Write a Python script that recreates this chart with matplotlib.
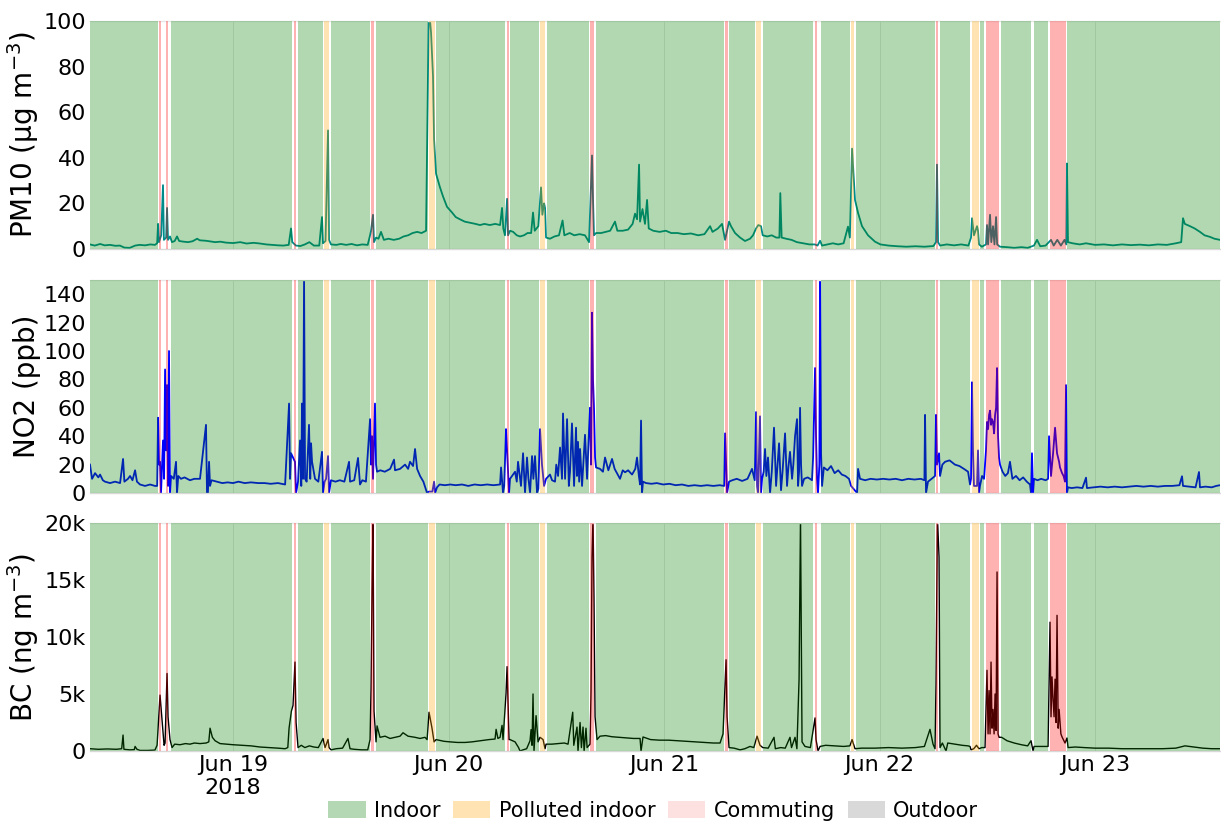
import numpy as np
import pandas as pd
import matplotlib
matplotlib.use('Agg')
import matplotlib.pyplot as plt
from matplotlib.patches import Patch

# times are hours after 2018-06-18 00:00
t0 = pd.Timestamp('2018-06-18 00:00')
x_start = 8.07
x_end = 133.92

# ---------------------------------------------------------------
#  activity periods (start h, end h)
# ---------------------------------------------------------------
indoor = [(8.07, 15.68), (17.06, 30.60), (31.21, 33.99), (34.91, 39.26), (39.93, 45.68),
          (46.61, 54.29), (54.88, 58.11), (58.94, 63.68), (64.43, 78.65), (79.27, 82.10),
          (82.99, 88.63), (89.49, 92.72), (93.35, 102.15), (102.74, 106.08), (107.23, 107.64),
          (109.50, 112.84), (113.24, 114.80), (116.88, 133.92)]
polluted = [(34.17, 34.69), (45.83, 46.46), (58.22, 58.78), (82.25, 82.80), (92.83, 93.19),
            (106.27, 107.08)]
commuting = [(15.79, 16.01), (16.50, 16.73), (30.76, 31.02), (39.37, 39.70), (54.48, 54.74),
             (63.79, 64.24), (78.83, 79.16), (88.78, 89.09), (102.29, 102.55), (107.83, 109.31),
             (114.99, 116.74)]
outdoor = []

# ---------------------------------------------------------------
#  PM10 (ug m-3)
# ---------------------------------------------------------------
pm10_t = [8.07, 8.6, 9.2, 9.7, 10.3, 10.9, 11.4, 11.9, 12.5, 13.1, 13.6, 14.2, 14.8, 15.3, 15.55,
          15.65, 15.75, 16.0, 16.2, 16.3, 16.55, 16.65, 16.76, 16.98, 17.2, 17.5, 17.76, 18.0, 18.5,
          19.0, 19.5, 20.0, 20.3, 21.0, 21.5, 22.0, 22.6, 23.2, 24.0, 24.8, 25.5, 26.3, 27.0, 27.7,
          28.3, 29.0, 29.6, 30.2, 30.46, 30.6, 31.0, 31.5, 32.0, 32.5, 33.0, 33.6, 33.91, 34.02,
          34.3, 34.58, 34.69, 34.91, 35.5, 36.0, 36.6, 37.2, 37.8, 38.4, 39.0, 39.26, 39.37, 39.59,
          39.7, 39.93, 40.2, 40.48, 40.8, 41.3, 41.9, 42.5, 43.0, 43.5, 44.0, 44.5, 45.0, 45.5,
          45.8, 45.94, 46.05, 46.27, 46.39, 46.61, 47.05, 47.39, 47.83, 48.39, 48.8, 49.28, 49.8,
          50.39, 51.0, 51.5, 52.0, 52.6, 53.2, 53.74, 53.96, 54.1, 54.29, 54.52, 54.63, 54.85,
          55.2, 55.6, 55.96, 56.4, 56.8, 57.2, 57.41, 57.6, 58.0, 58.3, 58.45, 58.64, 58.75, 58.86,
          59.3, 59.8, 60.3, 60.7, 60.9, 61.5, 62.0, 62.6, 63.2, 63.65, 63.98, 64.09, 64.2, 64.43,
          65.0, 65.5, 66.0, 66.54, 66.8, 67.4, 68.0, 68.5, 68.77, 69.0, 69.22, 69.33, 69.6, 69.88,
          70.11, 70.3, 70.8, 71.5, 72.2, 72.8, 73.5, 74.2, 75.0, 75.8, 76.5, 77.13, 77.4, 78.0,
          78.46, 78.7, 78.8, 79.02, 79.24, 79.46, 79.91, 80.47, 81.02, 81.58, 81.91, 82.25, 82.5,
          82.8, 82.99, 83.5, 84.0, 84.5, 84.85, 84.95, 85.1, 85.6, 86.2, 86.8, 87.5, 88.2, 88.8,
          89.1, 89.38, 89.6, 90.2, 90.8, 91.4, 92.0, 92.49, 92.7, 92.94, 93.27, 93.61, 94.05,
          94.72, 95.5, 96.1, 97.0, 98.0, 99.0, 100.0, 101.0, 102.0, 102.29, 102.4, 102.52, 102.74,
          103.5, 104.3, 105.1, 105.9, 106.19, 106.3, 106.52, 106.86, 106.97, 107.08, 107.4, 107.86,
          107.97, 108.09, 108.31, 108.45, 108.64, 108.8, 108.98, 109.1, 109.42, 110.2, 111.0,
          111.8, 112.5, 113.2, 113.54, 113.9, 114.5, 115.1, 115.4, 115.8, 116.2, 116.6, 116.8,
          116.88, 116.99, 117.5, 118.3, 119.0, 120.0, 121.0, 122.0, 123.0, 124.0, 125.0, 126.0,
          127.0, 128.0, 129.0, 129.6, 129.8, 130.0, 130.58, 131.1, 131.69, 132.2, 132.81, 133.3,
          133.92]
pm10_v = [2.0, 1.5, 2.2, 1.6, 1.8, 1.4, 1.5, 0.6, 0.5, 1.5, 1.8, 1.6, 2.0, 1.8, 2.5,
          11.0, 3.0, 6.0, 28.0, 4.0, 5.0, 18.0, 4.0, 5.5, 3.0, 3.5, 5.5, 3.5, 3.2,
          3.0, 3.4, 4.5, 3.8, 3.6, 3.3, 3.0, 3.2, 2.8, 2.6, 3.0, 2.4, 2.7, 2.4, 2.0,
          1.8, 1.6, 1.5, 1.8, 9.0, 3.0, 1.5, 1.3, 2.0, 3.0, 1.5, 1.5, 14.0, 2.5,
          3.5, 52.0, 4.0, 2.0, 1.8, 2.2, 1.8, 2.2, 1.6, 2.0, 1.8, 6.0, 8.0, 15.0,
          3.0, 5.0, 4.5, 7.5, 4.0, 4.5, 4.0, 4.5, 5.5, 6.0, 7.0, 7.5, 7.0, 8.0,
          105.0, 100.0, 95.0, 76.0, 48.0, 33.0, 27.0, 23.0, 18.5, 16.0, 14.0, 13.0, 12.0,
          11.5, 11.0, 10.5, 11.0, 10.5, 11.0, 10.5, 18.0, 9.0, 6.0, 22.0, 6.0, 8.0,
          7.5, 6.0, 5.5, 6.0, 7.0, 7.0, 16.0, 8.0, 10.0, 27.0, 15.0, 20.0, 18.0, 5.0,
          4.5, 5.5, 6.0, 12.5, 6.0, 7.0, 6.0, 6.5, 6.0, 3.0, 41.0, 22.0, 6.0, 7.0,
          7.0, 7.5, 8.0, 12.0, 8.0, 8.0, 8.5, 11.0, 15.5, 13.0, 37.0, 12.0, 17.5, 11.0,
          21.5, 9.0, 8.0, 7.5, 8.0, 7.0, 7.0, 6.5, 6.8, 6.0, 6.5, 10.0, 7.5, 9.0,
          11.0, 6.0, 4.0, 8.0, 12.0, 10.0, 7.0, 5.0, 3.5, 4.5, 6.0, 9.0, 10.5,
          10.0, 6.0, 5.5, 6.0, 5.0, 5.0, 24.5, 5.0, 4.5, 4.0, 3.0, 2.5, 2.0, 2.0,
          1.5, 3.6, 1.5, 2.0, 2.5, 2.0, 2.5, 9.8, 5.0, 44.0, 21.5, 15.8, 10.0,
          6.0, 3.2, 2.0, 1.5, 1.2, 1.0, 1.2, 1.0, 1.3, 3.0, 37.0, 3.0, 1.5,
          2.0, 1.6, 2.0, 1.5, 5.0, 13.5, 6.0, 10.0, 8.0, 2.0, 1.0, 2.0,
          10.5, 2.0, 15.0, 3.0, 10.0, 2.0, 14.0, 2.0, 1.0, 0.8, 0.5,
          0.8, 0.5, 1.5, 4.0, 1.2, 1.5, 4.0, 1.5, 4.0, 1.5, 4.0, 2.0,
          37.5, 3.0, 2.5, 2.0, 2.5, 1.8, 2.0, 1.6, 2.0, 1.7, 1.9, 1.6,
          2.0, 1.8, 2.5, 3.0, 13.5, 11.0, 10.0, 9.0, 7.5, 6.0, 5.3, 4.5,
          4.0]

# ---------------------------------------------------------------
#  NO2 (ppb)
# ---------------------------------------------------------------
no2_t = [8.07, 8.3, 8.63, 9.0, 9.19, 9.5, 9.74, 10.3, 10.86, 11.42, 11.75, 11.9, 12.3, 12.53,
         12.8, 13.09, 13.3, 13.64, 14.2, 14.76, 15.31, 15.55, 15.65, 15.76, 15.87, 15.98, 16.2,
         16.32, 16.43, 16.55, 16.65, 16.76, 16.87, 16.98, 17.1, 17.4, 17.65, 17.76, 17.9, 18.2,
         18.6, 19.2, 19.7, 20.32, 20.99, 21.1, 21.2, 21.33, 21.44, 21.6, 22.2, 22.8, 23.4, 24.0,
         24.6, 25.3, 26.0, 26.8, 27.5, 28.2, 29.0, 29.8, 30.24, 30.35, 30.46, 30.68, 30.9, 31.02,
         31.24, 31.46, 31.6, 31.68, 31.8, 31.91, 32.02, 32.2, 32.46, 32.6, 32.69, 32.8, 33.13,
         33.5, 33.91, 34.02, 34.2, 34.36, 34.58, 34.69, 34.91, 35.4, 35.9, 36.4, 36.92, 37.03,
         37.5, 37.92, 38.14, 38.4, 38.8, 39.26, 39.37, 39.48, 39.59, 39.81, 39.93, 40.04, 40.4,
         40.9, 41.5, 41.93, 42.04, 42.6, 43.16, 43.5, 43.71, 44.05, 44.27, 44.5, 44.83, 45.2,
         45.61, 45.8, 46.2, 46.39, 46.5, 46.72, 47.0, 47.6, 48.2, 48.8, 49.5, 50.2, 50.9, 51.6,
         52.3, 53.0, 53.74, 53.85, 54.07, 54.2, 54.4, 54.52, 54.74, 54.85, 55.07, 55.41, 55.6,
         55.74, 56.07, 56.3, 56.52, 56.74, 56.9, 57.08, 57.3, 57.45, 57.63, 57.86, 58.0, 58.19,
         58.41, 58.64, 58.86, 59.3, 59.53, 59.86, 60.0, 60.2, 60.42, 60.64, 60.75, 60.98, 61.2,
         61.4, 61.53, 61.75, 61.98, 62.2, 62.3, 62.42, 62.55, 62.65, 62.87, 63.2, 63.43, 63.65,
         63.76, 63.87, 63.98, 64.09, 64.2, 64.32, 64.43, 64.87, 65.2, 65.43, 65.8, 66.21, 66.5,
         67.1, 67.4, 67.66, 68.0, 68.44, 68.8, 68.99, 69.2, 69.33, 69.44, 69.55, 69.66, 70.0,
         70.6, 71.2, 71.9, 72.6, 73.3, 74.0, 74.7, 75.4, 76.1, 76.8, 77.5, 78.2, 78.7, 78.8,
         78.91, 79.02, 79.24, 79.6, 80.1, 80.7, 81.3, 81.8, 82.1, 82.25, 82.36, 82.47, 82.69,
         82.8, 82.92, 83.1, 83.25, 83.4, 83.58, 83.81, 84.0, 84.25, 84.48, 84.6, 84.81, 85.03,
         85.2, 85.48, 85.7, 85.85, 86.03, 86.26, 86.4, 86.59, 86.81, 86.93, 87.04, 87.15, 87.26,
         87.37, 87.6, 88.0, 88.26, 88.48, 88.6, 88.82, 88.93, 89.04, 89.15, 89.3, 89.38, 89.49,
         89.6, 89.8, 90.2, 90.6, 91.0, 91.4, 91.8, 92.2, 92.6, 92.83, 93.1, 93.5, 93.61, 93.83,
         94.4, 95.0, 95.7, 96.4, 97.1, 97.8, 98.5, 99.2, 99.9, 100.6, 101.0, 101.07, 101.18,
         101.4, 101.8, 102.18, 102.29, 102.4, 102.63, 102.74, 103.0, 103.3, 103.8, 104.4, 104.9,
         105.4, 105.86, 106.08, 106.19, 106.3, 106.41, 106.52, 106.86, 106.97, 107.08, 107.19,
         107.42, 107.64, 107.86, 107.97, 108.09, 108.2, 108.31, 108.42, 108.53, 108.64, 108.76,
         108.87, 108.98, 109.09, 109.2, 109.31, 109.42, 109.7, 110.0, 110.3, 110.53, 110.8,
         111.2, 111.6, 112.0, 112.4, 112.76, 112.87, 112.98, 113.1, 113.21, 113.6, 114.0, 114.5,
         114.77, 114.88, 115.1, 115.33, 115.55, 115.77, 116.0, 116.1, 116.33, 116.5, 116.66,
         116.77, 116.88, 116.99, 117.4, 118.0, 118.6, 119.0, 119.1, 119.8, 120.6, 121.4, 122.2,
         123.0, 123.8, 124.6, 125.4, 126.2, 127.0, 127.8, 128.6, 129.4, 129.69, 129.8, 130.5,
         131.2, 131.58, 131.69, 132.3, 133.0, 133.5, 133.92]
no2_v = [20, 10, 14, 11, 13, 9, 8, 7, 8, 7, 24, 8, 10, 12,
         9, 16, 8, 6, 5, 6, 5, 5, 53, 20, 22, 0, 37,
         10, 87, 30, 76, 5, 100, 0, 12, 10, 22, 0, 12, 10,
         11, 9, 10, 10, 48, 0, 0, 22, 5, 9, 8, 7, 7.5, 7,
         8, 7, 7.5, 7, 7, 6.5, 7, 6, 63, 10, 28, 25, 22, 0,
         8, 37, 5, 63, 10, 152, 10, 8, 48, 10, 35, 22, 10,
         8, 29, 0, 8, 10, 26, 0, 9, 8, 9, 8, 22, 8,
         9, 24.7, 6, 9, 8, 52, 20, 40, 10, 63, 20, 15, 16,
         15, 17, 23.5, 16, 17, 20, 17, 22, 19, 31, 17, 12, 8,
         0, 1, 1, 8, 0, 4, 6, 5.5, 6, 5.5, 6, 5, 6, 5.5,
         6, 5.5, 6, 18, 0, 5, 45, 30, 0, 10, 12, 15, 8,
         22, 5, 28, 0, 25, 10, 0, 26, 10, 26, 0, 3, 45,
         20, 5, 10, 13, 9, 8, 20, 12, 32, 10, 56, 10, 52,
         5, 15, 49, 5, 46, 12, 36, 8, 31, 5, 41, 10, 45,
         60, 20, 127, 80, 60, 25, 18, 17, 15, 25, 16, 24, 17,
         10, 16, 14.6, 16, 13, 17, 25, 12, 6, 51, 0, 8, 7,
         6.5, 7, 6, 6.5, 5.5, 6, 5, 5.5, 5, 5.5, 5, 5.5, 5, 42,
         22, 0, 8, 9, 10, 8.5, 10, 17, 9, 57, 5, 0, 54,
         0, 10, 15, 31, 12, 25, 0, 15, 46, 5, 16, 35, 2,
         15, 42, 5, 18, 29, 10, 20, 40, 52, 5, 15, 60, 20,
         5, 10, 11, 10, 9, 25, 88, 40, 10, 0, 20, 152, 28,
         5, 18, 16, 19, 14, 16, 13, 12, 10, 5, 3, 0, 17, 10,
         9, 10, 9.5, 10, 9.5, 10, 9, 10, 9.5, 10, 9, 55, 0,
         8, 10, 12, 55, 20, 28, 12, 20, 22, 23, 20, 19,
         17, 15, 6, 10, 78, 30, 5, 5, 30, 0, 5,
         12, 10, 30, 50, 45, 55, 58, 48, 52, 50, 42,
         55, 60, 88, 40, 25, 20, 15, 12, 14, 22, 10,
         12, 9, 11, 8, 6, 0, 28, 0, 10, 9, 10, 9,
         10, 40, 12, 28, 46, 28, 22, 18, 14, 12, 8,
         76, 0, 4, 3.5, 4, 3.5, 10.8, 3.5, 4, 4.5, 4, 4.5,
         4, 4.5, 5, 4.5, 5, 4.5, 5, 5, 5.5, 11.8, 5, 4.5,
         4, 14.8, 4, 4.5, 4, 5, 5.5]

# ---------------------------------------------------------------
#  BC (ng m-3)
# ---------------------------------------------------------------
bc_t = [8.07, 9.0, 10.0, 11.0, 11.6, 11.75, 11.85, 12.5, 13.0, 13.09, 13.3, 13.64, 14.5, 15.3,
        15.54, 15.87, 16.09, 16.32, 16.43, 16.65, 16.76, 16.98, 17.21, 17.5, 18.1, 18.7, 19.2,
        19.7, 20.32, 21.0, 21.3, 21.44, 21.7, 22.0, 22.55, 23.3, 24.0, 25.0, 26.0, 27.0, 28.0,
        29.0, 29.8, 30.1, 30.24, 30.5, 30.68, 30.9, 31.02, 31.24, 31.6, 32.0, 32.5, 33.0, 33.5,
        34.02, 34.25, 34.58, 34.69, 34.91, 35.5, 36.2, 36.8, 37.03, 37.5, 38.3, 39.0, 39.26,
        39.37, 39.48, 39.59, 39.7, 39.93, 40.04, 40.37, 40.93, 41.49, 42.04, 42.6, 42.93, 43.49,
        44.27, 44.83, 45.38, 45.61, 45.83, 46.16, 46.39, 46.61, 47.5, 48.17, 49.0, 49.84, 50.6,
        51.51, 52.5, 53.18, 53.3, 53.5, 53.74, 53.96, 54.07, 54.4, 54.52, 54.74, 54.85, 55.41,
        55.8, 55.96, 56.3, 56.7, 57.08, 57.19, 57.3, 57.41, 57.52, 57.75, 57.97, 58.19, 58.53,
        58.75, 58.86, 59.5, 60.2, 60.9, 61.31, 61.83, 61.95, 62.31, 62.42, 62.65, 62.8, 62.98,
        63.1, 63.31, 63.43, 63.76, 63.87, 63.98, 64.09, 64.2, 64.32, 64.54, 64.87, 65.5, 66.2,
        67.0, 67.8, 68.6, 69.33, 69.44, 69.66, 70.5, 71.5, 72.5, 73.5, 74.5, 75.5, 76.5, 77.5,
        78.24, 78.57, 78.91, 79.02, 79.24, 79.8, 80.47, 81.0, 81.58, 82.0, 82.36, 82.69, 83.0,
        83.6, 84.25, 84.4, 85.0, 85.5, 86.03, 86.2, 86.59, 86.8, 87.04, 87.2, 87.37, 87.7, 88.3,
        88.82, 88.93, 89.15, 89.38, 90.0, 91.0, 92.0, 92.7, 92.94, 93.27, 94.0, 95.5, 97.0,
        98.5, 100.0, 101.0, 101.62, 101.96, 102.18, 102.29, 102.45, 102.63, 102.74, 103.0,
        103.41, 103.6, 104.4, 105.2, 105.86, 106.08, 106.19, 106.5, 106.8, 107.08, 107.4,
        107.75, 107.97, 108.09, 108.2, 108.31, 108.42, 108.53, 108.64, 108.76, 108.87, 108.98,
        109.09, 109.2, 109.31, 109.6, 110.2, 111.0, 111.8, 112.5, 112.87, 113.1, 113.21, 114.0,
        114.77, 114.99, 115.1, 115.21, 115.33, 115.44, 115.55, 115.66, 115.77, 115.9, 116.0,
        116.2, 116.33, 116.66, 116.88, 117.0, 117.8, 118.8, 120.0, 121.5, 123.0, 124.5, 126.0,
        127.5, 129.0, 130.02, 131.0, 132.0, 133.0, 133.92]
bc_v = [200, 150, 180, 150, 200, 1400, 150, 100, 120, 400, 150, 50, 50, 80,
        500, 4900, 2800, 500, 700, 6800, 3000, 1000, 300, 600, 550, 650, 600,
        700, 650, 700, 800, 2000, 1200, 900, 650, 600, 550, 500, 450, 350, 300,
        250, 200, 300, 2000, 3500, 4000, 7800, 2500, 300, 500, 300, 450, 350, 300,
        1100, 300, 1000, 300, 100, 200, 250, 1100, 200, 150, 100, 100, 1000,
        5500, 14000, 20500, 3500, 800, 2200, 1200, 1300, 1100, 1200, 1300, 1600, 1300,
        1200, 1100, 1200, 1000, 3400, 2000, 800, 1000, 850, 800, 750, 750, 800,
        900, 1000, 1050, 1900, 1100, 1200, 2250, 1000, 5000, 7400, 1000, 1000, 800,
        300, 0, 100, 200, 900, 1870, 500, 5000, 0, 3100, 800, 1200, 1000,
        200, 600, 600, 650, 700, 600, 3400, 500, 2100, 0, 2500, 300, 2100,
        0, 2000, 300, 600, 5200, 17000, 20500, 13500, 3000, 1000, 1300, 1350, 1250,
        1200, 1150, 1100, 1100, 0, 1230, 1000, 950, 950, 900, 850, 800, 750, 700,
        700, 1500, 8000, 3000, 300, 250, 100, 200, 400, 300, 1300, 500, 300,
        250, 1200, 200, 300, 250, 1200, 300, 1200, 200, 6300, 20500, 800, 400, 300,
        2900, 1000, 0, 400, 500, 450, 400, 450, 1000, 200, 250, 250, 300,
        250, 300, 400, 1900, 600, 200, 5900, 20500, 17000, 300, 700,
        0, 700, 600, 500, 450, 400, 100, 200, 500, 200, 300,
        300, 7080, 1500, 5300, 1500, 7800, 2000, 3650, 1500, 5000, 1800,
        15700, 1500, 1200, 1200, 900, 700, 550, 450, 900, 0, 400, 400,
        400, 11300, 3000, 6500, 4500, 3000, 6300, 2500, 11900, 2000, 3650,
        1500, 1230, 700, 1140, 300, 350, 300, 250, 250, 200, 200, 200,
        200, 250, 450, 350, 250, 200, 200]

tick_days = ['2018-06-19', '2018-06-20', '2018-06-21', '2018-06-22', '2018-06-23']
tick_labels = ['Jun 19\n2018', 'Jun 20', 'Jun 21', 'Jun 22', 'Jun 23']


def to_time(hours):
    return t0 + pd.to_timedelta(np.array(hours, dtype=float), unit='h')


fig = plt.figure(figsize=(12.21, 8.25), dpi=100)
left = 90 / 1221
width = 1130 / 1221
ax1 = fig.add_axes([left, 0.6982, width, 0.2764])
ax2 = fig.add_axes([left, 0.4024, width, 0.2582])
ax3 = fig.add_axes([left, 0.0897, width, 0.2764])

panels = [
    (ax1, pm10_t, pm10_v, 'darkcyan', 1.3, 'PM10 (μg m$^{-3}$)', (0, 100), [0, 20, 40, 60, 80, 100],
     ['0', '20', '40', '60', '80', '100']),
    (ax2, no2_t, no2_v, 'blue', 1.3, 'NO2 (ppb)', (0, 150), [0, 20, 40, 60, 80, 100, 120, 140],
     ['0', '20', '40', '60', '80', '100', '120', '140']),
    (ax3, bc_t, bc_v, 'black', 1.0, 'BC (ng m$^{-3}$)', (0, 20000), [0, 5000, 10000, 15000, 20000],
     ['0', '5k', '10k', '15k', '20k']),
]

for ax, tt, vv, col, lw, lab, ylim, yt, ytl in panels:
    ax.plot(to_time(tt), vv, color=col, lw=lw, zorder=2)
    for s, e in indoor:
        ax.axvspan(t0 + pd.Timedelta(hours=s), t0 + pd.Timedelta(hours=e), color='green', alpha=0.3, lw=0, zorder=3)
    for s, e in polluted:
        ax.axvspan(t0 + pd.Timedelta(hours=s), t0 + pd.Timedelta(hours=e), color='orange', alpha=0.3, lw=0, zorder=3)
    for s, e in commuting:
        ax.axvspan(t0 + pd.Timedelta(hours=s), t0 + pd.Timedelta(hours=e), color='red', alpha=0.3, lw=0, zorder=3)
    for s, e in outdoor:
        ax.axvspan(t0 + pd.Timedelta(hours=s), t0 + pd.Timedelta(hours=e), color='gray', alpha=0.3, lw=0, zorder=3)
    ax.set_xlim(t0 + pd.Timedelta(hours=x_start), t0 + pd.Timedelta(hours=x_end))
    ax.set_ylim(*ylim)
    ax.set_yticks(yt)
    ax.set_yticklabels(ytl, fontsize=16)
    ax.set_ylabel(lab, fontsize=20)
    ax.yaxis.set_label_coords(-0.043, 0.5)
    ax.set_xticks(pd.to_datetime(tick_days))
    ax.grid(axis='x', color='#e2e2e2', lw=0.6, zorder=1)
    ax.set_axisbelow(True)
    ax.tick_params(length=0, pad=3)
    for sp in ax.spines.values():
        sp.set_color('#d8d8d8')
        sp.set_linewidth(1)
    ax.spines['left'].set_visible(False)
    ax.spines['right'].set_visible(False)
    ax.spines['top'].set_color('#e8e8e8')

ax1.set_xticklabels([])
ax2.set_xticklabels([])
ax3.set_xticklabels(tick_labels, fontsize=16)

handles = [Patch(facecolor='#b3d8b3', label='Indoor'),
           Patch(facecolor='#ffe3b3', label='Polluted indoor'),
           Patch(facecolor='#fde0e0', label='Commuting'),
           Patch(facecolor='#d9d9d9', label='Outdoor')]
fig.legend(handles=handles, loc='center', bbox_to_anchor=(0.535, 0.017), ncol=4, frameon=False,
           fontsize=15, handletextpad=0.4, columnspacing=0.6, handlelength=1.8, handleheight=0.85)

fig.savefig('out.png', dpi=100)
